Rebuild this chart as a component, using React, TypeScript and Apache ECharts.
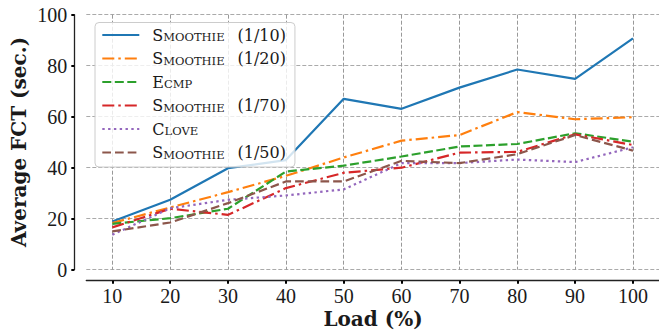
import React, { useEffect, useRef } from 'react';
import * as echarts from 'echarts';

const loads = [10, 20, 30, 40, 50, 60, 70, 80, 90, 100];
const smoothie10 = [18.9, 27.4, 39.8, 43, 67, 63.1, 71.4, 78.5, 74.8, 90.7];
const smoothie20 = [18.3, 24.4, 30.4, 36.8, 44, 50.6, 52.8, 61.8, 59, 59.8];
const ecmp = [18, 20.2, 23.9, 38.5, 40.8, 44.4, 48.3, 49.3, 53.5, 50.2];
const smoothie70 = [16.6, 23.9, 21.5, 32, 38, 40, 45.9, 46.2, 53.1, 48.9];
const clove = [13.7, 24.1, 27.4, 29.1, 31.5, 41.8, 41.8, 43.2, 42.2, 48];
const smoothie50 = [15, 18.5, 26.1, 34.6, 34.6, 42.7, 41.8, 45.3, 52.8, 46.7];
const seriesNames = ['Smoothie (1/10)', 'Smoothie (1/20)', 'Ecmp', 'Smoothie (1/70)', 'Clove', 'Smoothie (1/50)'];
const seriesValues = [smoothie10, smoothie20, ecmp, smoothie70, clove, smoothie50];
const yMin = 0;
const yMax = 100;
const yStep = 20;

const colors = ['#1f77b4', '#ff7f0e', '#2ca02c', '#d62728', '#9467bd', '#8c564b'];
const dashes: (number[] | 'solid')[] = ['solid', [12, 4, 2.5, 4], [9, 3.5], [12, 4, 2.5, 4], [2.4, 3.4], [8.7, 4]];

function smallCaps(name: string): string {
  const sp = name.indexOf(' ');
  const word = sp >= 0 ? name.slice(0, sp) : name;
  const rest = sp >= 0 ? name.slice(sp + 1) : '';
  let s = `{g| }{c|${word[0]}}{s|${word.slice(1).toUpperCase()}}`;
  if (rest) s += `{w| }{c|${rest}}`;
  return s;
}

export default function App() {
  const ref = useRef<HTMLDivElement>(null);
  useEffect(() => {
    if (!ref.current) return;
    const chart = echarts.init(ref.current, undefined, { renderer: 'svg' });
    const txt = '#1a1a1a';
    const series = seriesNames.map((name, i) => ({
      name,
      type: 'line',
      data: loads.map((x, j) => [x, seriesValues[i][j]]),
      symbol: 'none',
      showSymbol: false,
      lineStyle: { color: colors[i], width: 2.2, type: dashes[i] },
      itemStyle: { color: colors[i] },
      z: 2 + i * 0.01,
    }));
    chart.setOption({
      animation: false,
      backgroundColor: '#ffffff',
      grid: { left: 86.3, top: 14.7, width: 574.2, height: 255, containLabel: false },
      xAxis: {
        type: 'value',
        min: 5.5,
        max: 104.5,
        offset: 11,
        axisLine: { show: true, onZero: false, lineStyle: { color: '#222', width: 1.3 } },
        axisTick: { show: true, customValues: loads, length: 3, lineStyle: { color: '#000', width: 2 } },
        axisLabel: { customValues: loads, margin: 5, fontFamily: 'Liberation Serif', fontSize: 20, color: txt },
        splitLine: { show: true, lineStyle: { color: '#999', type: [4, 2], width: 1 } },
      },
      yAxis: {
        type: 'value',
        min: yMin,
        max: yMax,
        interval: yStep,
        offset: 12,
        axisLine: { show: true, onZero: false, lineStyle: { color: '#222', width: 1.3 } },
        axisTick: { show: true, length: 3, lineStyle: { color: '#000', width: 2 } },
        axisLabel: { margin: 7, fontFamily: 'Liberation Serif', fontSize: 20, color: txt },
        splitLine: { show: true, lineStyle: { color: '#aaa', type: [4, 2], width: 1 } },
      },
      legend: {
        orient: 'vertical',
        left: 95,
        top: 22.5,
        itemWidth: 37,
        itemHeight: 16,
        itemGap: 7.5,
        padding: [4.5, 9, 6.5, 6.3],
        backgroundColor: 'rgba(255,255,255,0.8)',
        borderColor: '#cccccc',
        borderWidth: 1,
        borderRadius: 4,
        selectedMode: false,
        itemStyle: { opacity: 0 },
        data: seriesNames,
        formatter: (name: string) => smallCaps(name),
        textStyle: {
          fontFamily: 'DejaVu Serif',
          color: txt,
          rich: {
            g: { width: 8, fontSize: 16, lineHeight: 16, verticalAlign: 'bottom' },
            w: { width: 13, fontSize: 16, lineHeight: 16, verticalAlign: 'bottom' },
            c: { fontFamily: 'DejaVu Serif', fontSize: 16, lineHeight: 16, color: txt, verticalAlign: 'bottom' },
            s: { fontFamily: 'DejaVu Serif', fontSize: 11.5, lineHeight: 16, color: txt, verticalAlign: 'bottom' },
          },
        },
      },
      graphic: [
        {
          type: 'text',
          x: 373,
          y: 319,
          style: {
            text: 'Load (%)',
            font: 'bold 20px "DejaVu Serif"',
            fill: txt,
            align: 'center',
            verticalAlign: 'middle',
          },
        },
        {
          type: 'text',
          x: 19,
          y: 142,
          rotation: Math.PI / 2,
          style: {
            text: 'Average FCT (sec.)',
            font: 'bold 20px "DejaVu Serif"',
            fill: txt,
            align: 'center',
            verticalAlign: 'middle',
          },
        },
      ],
      series,
    });
    return () => chart.dispose();
  }, []);
  return (
    <div
      ref={ref}
      style={{ position: 'fixed', left: 0, top: 0, width: 659, height: 333, background: '#fff' }}
    />
  );
}
